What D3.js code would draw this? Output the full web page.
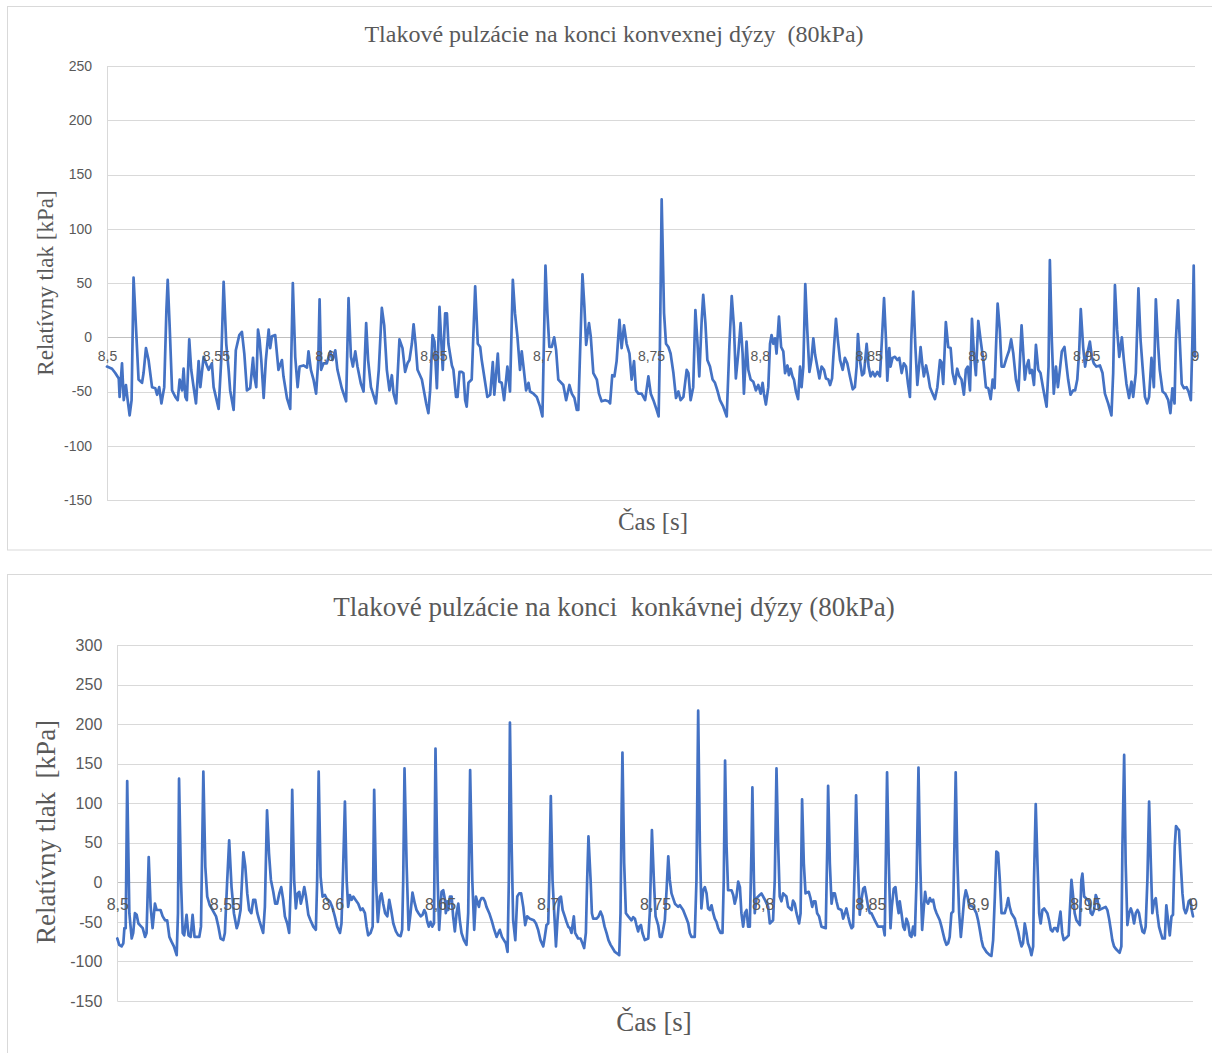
<!DOCTYPE html>
<html><head><meta charset="utf-8">
<script src="https://cdn.jsdelivr.net/npm/d3@7"></script>
<style>body{margin:0;background:#fff}svg text{white-space:pre}</style>
</head><body>
<svg id="c" width="1212" height="1053"></svg>
<script>
// ---------- DATA ----------
const timeTicks = [8.5, 8.55, 8.6, 8.65, 8.7, 8.75, 8.8, 8.85, 8.9, 8.95, 9];
const timeTickLabels = ["8,5","8,55","8,6","8,65","8,7","8,75","8,8","8,85","8,9","8,95","9"];
const convexTicks = [-150,-100,-50,0,50,100,150,200,250];
const concaveTicks = [-150,-100,-50,0,50,100,150,200,250,300];
const convexTitle = "Tlakové pulzácie na konci konvexnej dýzy  (80kPa)";
const concaveTitle = "Tlakové pulzácie na konci  konkávnej dýzy (80kPa)";
const convexYTitle = "Relatívny tlak [kPa]";
const concaveYTitle = "Relatívny tlak  [kPa]";
const xTitle = "Čas [s]";

// [time s, relative pressure kPa]
const convexSeries = [[8.5000,-27],[8.5023,-29],[8.5038,-33],[8.5054,-38],[8.5058,-55],[8.5069,-24],[8.5077,-58],[8.5087,-44],[8.5095,-58],[8.5104,-72],[8.5113,-58],[8.5122,55],[8.5133,10],[8.5145,-39],[8.5161,-42],[8.5168,-33],[8.5179,-10],[8.5191,-21],[8.5207,-46],[8.5222,-47],[8.5230,-53],[8.5240,-46],[8.5250,-61],[8.5263,-46],[8.5273,25],[8.5279,53],[8.5288,10],[8.5299,-49],[8.5314,-55],[8.5325,-58],[8.5334,-39],[8.5345,-49],[8.5352,-29],[8.5360,-55],[8.5367,-58],[8.5378,-2],[8.5387,-30],[8.5398,-46],[8.5409,-61],[8.5421,-22],[8.5429,-46],[8.5444,-18],[8.5459,-26],[8.5467,-30],[8.5482,-24],[8.5490,-46],[8.5513,-66],[8.5525,-21],[8.5536,51],[8.5548,-6],[8.5559,-30],[8.5566,-49],[8.5582,-67],[8.5592,-12],[8.5608,2],[8.5620,5],[8.5631,-15],[8.5643,-49],[8.5658,-47],[8.5671,-19],[8.5677,-36],[8.5686,-46],[8.5694,7],[8.5701,-2],[8.5709,-21],[8.5720,-56],[8.5730,-21],[8.5743,7],[8.5750,-10],[8.5758,1],[8.5773,2],[8.5788,-30],[8.5804,-21],[8.5811,-36],[8.5827,-56],[8.5842,-66],[8.5854,50],[8.5865,-18],[8.5876,-46],[8.5885,-27],[8.5903,-26],[8.5919,-28],[8.5926,-13],[8.5937,-30],[8.5949,-39],[8.5961,-52],[8.5971,-21],[8.5977,35],[8.5984,-30],[8.5995,-24],[8.6010,-24],[8.6026,-13],[8.6036,-21],[8.6049,-12],[8.6059,-30],[8.6079,-47],[8.6099,-59],[8.6110,36],[8.6121,-18],[8.6130,-27],[8.6141,-13],[8.6151,-27],[8.6167,-43],[8.6179,-50],[8.6191,13],[8.6200,-21],[8.6213,-46],[8.6236,-61],[8.6249,-30],[8.6263,27],[8.6274,11],[8.6286,-30],[8.6298,-49],[8.6309,-35],[8.6317,-52],[8.6329,-61],[8.6344,-2],[8.6358,-10],[8.6370,-32],[8.6381,-24],[8.6390,-21],[8.6401,-6],[8.6409,12],[8.6418,-6],[8.6427,-30],[8.6447,-39],[8.6467,-61],[8.6477,-70],[8.6485,-49],[8.6496,2],[8.6505,-4],[8.6516,-47],[8.6528,28],
[8.6543,-30],[8.6554,22],[8.6562,22],[8.6569,-6],[8.6585,-26],[8.6592,-30],[8.6604,-55],[8.6611,-55],[8.6620,-32],[8.6630,-32],[8.6638,-33],[8.6646,-58],[8.6653,-64],[8.6661,-42],[8.6676,-39],[8.6692,47],[8.6704,-6],[8.6715,-9],[8.6722,-21],[8.6738,-42],[8.6748,-55],[8.6761,-53],[8.6773,-23],[8.6780,-53],[8.6796,-15],[8.6803,-41],[8.6814,-42],[8.6825,-58],[8.6840,-27],[8.6852,-50],[8.6865,53],[8.6875,22],[8.6886,1],[8.6898,-30],[8.6906,-13],[8.6914,-27],[8.6926,-49],[8.6937,-42],[8.6944,-50],[8.6960,-52],[8.6975,-55],[8.6990,-64],[8.7001,-73],[8.7015,66],[8.7024,22],[8.7033,-9],[8.7044,-9],[8.7055,0],[8.7064,-12],[8.7074,-39],[8.7097,-44],[8.7110,-58],[8.7125,-44],[8.7136,-52],[8.7148,-56],[8.7159,-67],[8.7166,-67],[8.7185,58],[8.7194,28],[8.7202,-7],[8.7215,13],[8.7223,1],[8.7235,-33],[8.7251,-39],[8.7261,-52],[8.7273,-59],[8.7289,-58],[8.7304,-59],[8.7312,-61],[8.7322,-35],[8.7332,-36],[8.7342,-22],[8.7355,16],[8.7365,-10],[8.7376,11],[8.7388,-6],[8.7401,-15],[8.7411,-39],[8.7422,-22],[8.7431,-49],[8.7442,-52],[8.7457,-52],[8.7473,-58],[8.7488,-36],[8.7499,-52],[8.7511,-58],[8.7526,-67],[8.7535,-73],[8.7541,-9],[8.7549,127],[8.7560,22],[8.7569,-6],[8.7580,-9],[8.7590,-15],[8.7603,-33],[8.7615,-56],[8.7626,-50],[8.7636,-58],[8.7649,-55],[8.7664,-30],[8.7672,-33],[8.7682,-58],[8.7694,-46],[8.7704,25],[8.7713,-3],[8.7722,-36],[8.7733,16],[8.7740,39],[8.7750,13],[8.7759,-21],[8.7771,-27],[8.7783,-39],[8.7794,-42],[8.7805,-49],[8.7817,-58],[8.7832,-64],[8.7848,-73],[8.7860,-9],[8.7871,38],[8.7881,10],[8.7890,-38],[8.7901,-15],[8.7912,13],[8.7921,-15],[8.7927,-52],[8.7939,-4],[8.7947,-30],[8.7958,-39],[8.7970,-41],[8.7982,-49],[8.7993,-44],[8.8004,-52],[8.8013,-42],[8.8019,-52],[8.8028,-62],[8.8039,-46],[8.8047,-6],[8.8054,2],[8.8062,-6],[8.8070,-1],[8.8077,-15],[8.8088,19],
[8.8098,-9],[8.8108,-13],[8.8116,-33],[8.8127,-26],[8.8134,-35],[8.8142,-29],[8.8150,-36],[8.8157,-39],[8.8166,-50],[8.8176,-57],[8.8185,-27],[8.8192,-46],[8.8200,-27],[8.8209,49],[8.8218,7],[8.8228,-32],[8.8237,-21],[8.8246,-1],[8.8254,-16],[8.8264,-27],[8.8274,-38],[8.8284,-27],[8.8295,-30],[8.8304,-38],[8.8315,-39],[8.8323,-44],[8.8332,-38],[8.8338,-18],[8.8350,17],[8.8359,-3],[8.8369,-21],[8.8381,-30],[8.8391,-19],[8.8402,-24],[8.8414,-36],[8.8427,-48],[8.8437,-46],[8.8445,-27],[8.8451,3],[8.8460,-21],[8.8470,-35],[8.8479,-33],[8.8491,-6],[8.8500,-27],[8.8509,-36],[8.8519,-32],[8.8529,-36],[8.8540,-32],[8.8552,-36],[8.8561,-3],[8.8571,36],[8.8580,-3],[8.8586,-40],[8.8595,-10],[8.8601,-27],[8.8610,-19],[8.8621,-18],[8.8632,-21],[8.8641,-19],[8.8652,-33],[8.8662,-24],[8.8672,-27],[8.8681,-43],[8.8690,-55],[8.8696,-3],[8.8705,42],[8.8715,-9],[8.8724,-44],[8.8733,-24],[8.8739,-9],[8.8748,-27],[8.8754,-36],[8.8764,-26],[8.8774,-36],[8.8782,-46],[8.8794,-52],[8.8805,-57],[8.8816,-46],[8.8828,-21],[8.8835,-23],[8.8843,-43],[8.8855,14],[8.8866,-9],[8.8877,-10],[8.8886,-33],[8.8897,-43],[8.8907,-29],[8.8917,-36],[8.8927,-39],[8.8938,-53],[8.8947,-30],[8.8956,-27],[8.8966,-49],[8.8975,17],[8.8984,-15],[8.8993,-35],[8.9004,15],[8.9015,-3],[8.9027,-21],[8.9039,-46],[8.9050,-47],[8.9061,-57],[8.9070,-39],[8.9079,-47],[8.9085,-12],[8.9093,31],[8.9103,7],[8.9111,-27],[8.9122,-27],[8.9134,-19],[8.9146,-12],[8.9155,-2],[8.9165,-15],[8.9177,-39],[8.9189,-49],[8.9203,11],[8.9211,-15],[8.9218,-39],[8.9226,-27],[8.9235,-21],[8.9241,-33],[8.9250,-30],[8.9260,-44],[8.9269,-7],[8.9280,-30],[8.9290,-33],[8.9302,-47],[8.9318,-64],[8.9327,-27],[8.9333,71],[8.9342,-3],[8.9351,-52],[8.9361,-27],[8.9370,-46],[8.9379,-30],[8.9388,-13],[8.9400,-9],[8.9410,-27],[8.9417,-39],[8.9428,-53],[8.9440,-49],[8.9449,-49],[8.9459,-39],[8.9468,-12],[8.9475,26],[8.9486,-9],[8.9495,-27],[8.9505,-15],[8.9517,-4],[8.9526,-18],[8.9535,-24],[8.9547,-27],[8.9563,-26],[8.9575,-33],[8.9586,-52],[8.9601,-61],[8.9616,-72],[8.9624,-33],[8.9632,48],[8.9642,7],[8.9652,-18],[8.9664,0],[8.9673,-21],[8.9685,-43],[8.9697,-56],[8.9708,-41],[8.9716,-55],[8.9728,-33],[8.9740,45],[8.9750,-3],[8.9759,-27],[8.9770,-55],[8.9780,-61],[8.9789,-55],[8.9800,-19],[8.9811,-46],[8.9820,35],[8.9831,-9],[8.9838,-30],[8.9851,-50],[8.9863,-52],[8.9877,-58],[8.9887,-70],[8.9896,-47],[8.9906,-61],[8.9912,-3],[8.9922,34],[8.9930,-3],[8.9939,-43],[8.9949,-47],[8.9961,-46],[8.9970,-50],[8.9981,-58],[8.9988,-3],[8.9994,66],[9.0000,-18]];

const concaveSeries = [[8.5000,-71],[8.5009,-79],[8.5020,-81],[8.5028,-77],[8.5033,-58],[8.5039,-58],[8.5046,128],[8.5056,-39],[8.5067,-71],[8.5074,-64],[8.5082,-39],[8.5090,-41],[8.5098,-52],[8.5105,-54],[8.5118,-58],[8.5129,-69],[8.5136,-64],[8.5146,32],[8.5155,-31],[8.5164,-58],[8.5175,-27],[8.5183,-35],[8.5201,-35],[8.5211,-43],[8.5222,-48],[8.5232,-48],[8.5242,-69],[8.5252,-75],[8.5263,-81],[8.5276,-92],[8.5282,-39],[8.5287,131],[8.5296,3],[8.5304,-64],[8.5311,-67],[8.5322,-41],[8.5331,-67],[8.5341,-69],[8.5350,-41],[8.5359,-69],[8.5381,-69],[8.5389,-56],[8.5400,140],[8.5409,20],[8.5418,-18],[8.5430,-29],[8.5443,-35],[8.5459,-43],[8.5470,-56],[8.5480,-71],[8.5493,-73],[8.5500,-64],[8.5511,3],[8.5520,53],[8.5531,-6],[8.5542,-39],[8.5555,-58],[8.5562,-52],[8.5573,-35],[8.5586,38],[8.5595,20],[8.5604,-14],[8.5613,-35],[8.5623,-39],[8.5632,-22],[8.5641,-22],[8.5651,-39],[8.5660,-48],[8.5671,-58],[8.5678,-64],[8.5686,-31],[8.5696,91],[8.5705,37],[8.5714,3],[8.5725,-12],[8.5734,-27],[8.5743,-27],[8.5753,-14],[8.5762,-6],[8.5771,-22],[8.5779,-43],[8.5790,-52],[8.5799,-64],[8.5807,3],[8.5813,117],[8.5822,3],[8.5830,-33],[8.5838,-14],[8.5846,-12],[8.5853,-27],[8.5861,-18],[8.5869,-6],[8.5877,-18],[8.5888,-41],[8.5898,-48],[8.5911,-56],[8.5923,-60],[8.5929,3],[8.5936,140],[8.5945,7],[8.5954,-18],[8.5965,-16],[8.5976,-22],[8.5988,-24],[8.5999,-31],[8.6011,-43],[8.6022,-56],[8.6035,-64],[8.6042,-52],[8.6050,20],[8.6058,102],[8.6066,3],[8.6073,-31],[8.6081,-16],[8.6089,-22],[8.6097,-18],[8.6107,-22],[8.6120,-27],[8.6131,-35],[8.6140,-33],[8.6151,-39],[8.6159,-56],[8.6166,-67],[8.6177,-64],[8.6187,-56],[8.6194,117],[8.6202,3],[8.6211,-50],[8.6221,-18],[8.6228,-14],[8.6236,-27],[8.6245,-39],[8.6255,-43],[8.6264,-22],[8.6273,-35],[8.6283,-52],[8.6295,-62],[8.6306,-67],[8.6317,-68],[8.6324,-60],[8.6329,3],[8.6335,144],[8.6345,20],[8.6354,-60],[8.6363,-39],[8.6372,-13],[8.6383,-27],[8.6391,-35],[8.6400,-39],[8.6410,-43],[8.6419,-41],[8.6427,-35],[8.6434,-39],[8.6441,-50],[8.6448,-56],[8.6456,-50],[8.6464,-56],[8.6472,-52],[8.6479,169],[8.6489,3],[8.6496,-60],
[8.6507,-12],[8.6515,-10],[8.6523,-22],[8.6527,-39],[8.6534,-24],[8.6538,-35],[8.6546,-18],[8.6554,-18],[8.6561,-43],[8.6569,-62],[8.6577,-39],[8.6585,-27],[8.6592,-48],[8.6600,-64],[8.6611,-73],[8.6623,-79],[8.6631,-39],[8.6640,142],[8.6650,3],[8.6659,-60],[8.6667,-18],[8.6673,-24],[8.6681,-31],[8.6685,-24],[8.6693,-20],[8.6701,-20],[8.6709,-24],[8.6716,-31],[8.6729,-39],[8.6740,-48],[8.6750,-58],[8.6763,-69],[8.6771,-64],[8.6778,-60],[8.6788,-69],[8.6797,-73],[8.6806,-77],[8.6814,-88],[8.6820,3],[8.6825,202],[8.6833,45],[8.6840,-48],[8.6850,-73],[8.6859,-18],[8.6868,-14],[8.6877,-14],[8.6887,-31],[8.6896,-54],[8.6905,-43],[8.6918,-46],[8.6936,-48],[8.6946,-52],[8.6956,-60],[8.6967,-73],[8.6980,-81],[8.6987,-69],[8.6995,-54],[8.7003,-52],[8.7008,3],[8.7015,109],[8.7023,3],[8.7031,-39],[8.7039,-81],[8.7046,-48],[8.7054,-20],[8.7062,-18],[8.7070,-35],[8.7080,-43],[8.7088,-50],[8.7096,-56],[8.7104,-58],[8.7111,-64],[8.7122,-43],[8.7128,-64],[8.7142,-71],[8.7153,-71],[8.7162,-77],[8.7170,-83],[8.7178,-64],[8.7184,3],[8.7190,58],[8.7200,3],[8.7206,-39],[8.7212,-46],[8.7228,-46],[8.7237,-43],[8.7246,-37],[8.7255,-43],[8.7265,-56],[8.7274,-64],[8.7283,-73],[8.7293,-79],[8.7302,-83],[8.7313,-88],[8.7324,-90],[8.7333,-92],[8.7339,-39],[8.7344,87],[8.7348,164],[8.7356,24],[8.7364,-39],[8.7375,-43],[8.7390,-48],[8.7398,-44],[8.7406,-46],[8.7413,-54],[8.7421,-62],[8.7426,-56],[8.7434,-54],[8.7441,-64],[8.7452,-73],[8.7468,-71],[8.7475,-39],[8.7485,66],[8.7494,3],[8.7502,-43],[8.7514,-54],[8.7522,-69],[8.7530,-69],[8.7537,-60],[8.7545,-48],[8.7553,-10],[8.7561,33],[8.7568,3],[8.7576,-14],[8.7592,-27],[8.7607,-31],[8.7615,-29],[8.7630,-35],[8.7646,-46],[8.7654,-52],[8.7661,-64],[8.7669,-69],[8.7684,-69],[8.7692,3],[8.7700,217],[8.7708,45],[8.7715,-33],[8.7723,-10],[8.7731,-6],[8.7739,-14],[8.7746,-33],[8.7754,-35],[8.7762,-29],[8.7770,-39],[8.7777,-46],[8.7785,-50],[8.7793,-58],[8.7804,-64],[8.7813,-64],[8.7819,3],[8.7825,154],[8.7832,45],[8.7839,-10],[8.7855,-10],[8.7863,-16],[8.7870,-27],[8.7878,-18],[8.7886,1],[8.7894,-6],[8.7901,-39],[8.7909,-56],[8.7917,-39],[8.7925,-35],[8.7932,-56],[8.7940,-56],[8.7948,45],[8.7952,120],[8.7959,3],[8.7963,-39],[8.7971,-20],[8.7986,-16],[8.7994,-14],[8.8010,-22],[8.8025,-31],[8.8033,-52],[8.8048,-48],[8.8056,3],[8.8064,144],
[8.8072,45],[8.8079,-18],[8.8087,-24],[8.8095,-14],[8.8110,-18],[8.8118,-31],[8.8134,-35],[8.8141,-23],[8.8149,-27],[8.8157,-39],[8.8169,-52],[8.8176,-39],[8.8183,105],[8.8191,24],[8.8199,-14],[8.8214,-12],[8.8222,-20],[8.8230,-31],[8.8237,-24],[8.8245,-24],[8.8253,-39],[8.8262,-43],[8.8273,-56],[8.8293,-58],[8.8300,45],[8.8304,122],[8.8312,24],[8.8320,-27],[8.8327,-14],[8.8335,-14],[8.8343,-24],[8.8351,-33],[8.8366,-35],[8.8374,-46],[8.8382,-39],[8.8389,-33],[8.8397,-43],[8.8405,-52],[8.8413,-58],[8.8420,-56],[8.8428,24],[8.8434,110],[8.8442,24],[8.8451,-41],[8.8459,-22],[8.8467,-8],[8.8474,-6],[8.8482,-18],[8.8490,-31],[8.8498,-39],[8.8505,-39],[8.8521,-48],[8.8536,-56],[8.8560,-56],[8.8567,-67],[8.8572,24],[8.8578,139],[8.8586,24],[8.8594,-58],[8.8600,-31],[8.8609,-8],[8.8617,-6],[8.8625,-27],[8.8632,-39],[8.8637,-24],[8.8645,-39],[8.8653,-56],[8.8660,-60],[8.8668,-46],[8.8676,-52],[8.8684,-67],[8.8691,-69],[8.8699,-56],[8.8707,-67],[8.8715,3],[8.8724,145],[8.8732,24],[8.8741,-60],[8.8749,-31],[8.8755,-12],[8.8761,-24],[8.8769,-27],[8.8777,-20],[8.8784,-24],[8.8792,-22],[8.8800,-33],[8.8808,-39],[8.8823,-48],[8.8831,-56],[8.8838,-64],[8.8846,-73],[8.8854,-79],[8.8862,-77],[8.8869,-69],[8.8877,-39],[8.8885,-37],[8.8891,45],[8.8897,139],[8.8905,24],[8.8913,-39],[8.8921,-69],[8.8928,-48],[8.8936,-22],[8.8944,-10],[8.8952,-18],[8.8959,-29],[8.8978,-31],[8.8993,-39],[8.9001,-48],[8.9009,-60],[8.9017,-73],[8.9024,-81],[8.9040,-88],[8.9055,-92],[8.9063,-93],[8.9071,-73],[8.9079,-18],[8.9086,39],[8.9094,37],[8.9102,3],[8.9110,-39],[8.9125,-39],[8.9133,-31],[8.9141,-20],[8.9148,-31],[8.9156,-39],[8.9172,-46],[8.9179,-54],[8.9187,-62],[8.9195,-73],[8.9203,-81],[8.9210,-77],[8.9218,-52],[8.9226,-64],[8.9233,-77],[8.9241,-83],[8.9249,-92],[8.9257,-81],[8.9261,3],[8.9269,99],[8.9277,24],[8.9285,-39],[8.9292,-52],[8.9300,-35],[8.9308,-33],[8.9323,-39],[8.9331,-48],[8.9339,-60],[8.9347,-62],[8.9354,-58],[8.9362,-58],[8.9370,-62],[8.9378,-48],[8.9384,-37],[8.9392,-64],[8.9399,-73],[8.9415,-69],[8.9422,-67],[8.9427,-39],[8.9435,3],[8.9443,-18],[8.9450,-39],[8.9458,-48],[8.9474,-54],[8.9481,3],[8.9486,11],[8.9494,-18],[8.9517,-24],[8.9525,-39],[8.9532,-41],[8.9540,-35],[8.9548,-16],[8.9556,-22],[8.9563,-35],[8.9594,-31],[8.9602,-35],[8.9610,-46],[8.9618,-60],[8.9625,-73],[8.9633,-81],[8.9644,-85],[8.9659,-89],[8.9667,-81],[8.9672,45],[8.9680,161],[8.9687,24],[8.9695,-54],[8.9703,-39],[8.9711,-33],[8.9718,-39],[8.9726,-52],[8.9734,-39],[8.9742,-35],[8.9749,-39],[8.9757,-52],[8.9765,-62],[8.9773,-64],[8.9780,-56],[8.9788,3],[8.9796,102],[8.9804,24],[8.9811,-39],[8.9819,-24],[8.9827,-20],[8.9834,-39],[8.9842,-56],[8.9850,-64],[8.9858,-71],[8.9869,-71],[8.9876,-29],[8.9884,-48],[8.9892,-67],[8.9900,-43],[8.9907,-41],[8.9915,45],[8.9921,71],[8.9929,68],[8.9935,66],[8.9943,24],[8.9951,-14],[8.9958,-33],[8.9966,-39],[8.9972,-35],[8.9980,-24],[8.9988,-22],[8.9994,-35],[9.0000,-43]];

// ---------- DRAW ----------
const svg = d3.select("#c");
const TXT = "#595959", GRID = "#d9d9d9", LINE = "#4472C4";

function drawChart(o) {
  const g = svg.append("g");
  g.append("rect").attr("x", o.box[0]).attr("y", o.box[1]).attr("width", o.box[2]).attr("height", o.box[3])
    .attr("fill", "#fff").attr("stroke", GRID).attr("stroke-width", 1);

  const x = d3.scaleLinear().domain([8.5, 9]).range([o.l, o.r]);
  const y = d3.scaleLinear().domain([o.ticks[0], o.ticks[o.ticks.length - 1]]).range([o.b, o.t]);

  // gridlines
  g.append("g").selectAll("line").data(o.ticks).join("line")
    .attr("x1", o.l).attr("x2", o.r)
    .attr("y1", d => Math.round(y(d)) + 0.5).attr("y2", d => Math.round(y(d)) + 0.5)
    .attr("stroke", d => d === 0 ? "#bfbfbf" : GRID).attr("stroke-width", 1);
  // vertical axis line
  g.append("line").attr("x1", Math.round(o.l) + 0.5).attr("x2", Math.round(o.l) + 0.5)
    .attr("y1", o.t).attr("y2", o.b).attr("stroke", GRID);

  // y tick labels via d3 axis (plain hyphen-minus as in the original)
  const yAxis = d3.axisLeft(y).tickValues(o.ticks).tickSize(0).tickPadding(0).tickFormat(d => String(d));
  const ya = g.append("g").attr("transform", `translate(${o.l - 15},0)`).call(yAxis);
  ya.select(".domain").remove();
  ya.selectAll("text").attr("fill", TXT).attr("font-family", "Liberation Sans, Arial, sans-serif")
    .attr("font-size", o.tickFs);

  // series line
  const line = d3.line().x(d => x(d[0])).y(d => y(d[1])).curve(d3.curveLinear);
  g.append("path").datum(o.data).attr("d", line).attr("fill", "none")
    .attr("stroke", LINE).attr("stroke-width", 2.7).attr("stroke-linejoin", "round").attr("stroke-linecap", "round");

  // x tick labels at the zero line
  const xAxis = d3.axisBottom(x).tickValues(timeTicks).tickSize(0).tickPadding(0)
    .tickFormat((d, i) => timeTickLabels[i]);
  const xa = g.append("g").attr("transform", `translate(0,${y(0) + o.xLabOff})`).call(xAxis);
  xa.select(".domain").remove();
  xa.selectAll("text").attr("fill", TXT).attr("font-family", "Liberation Sans, Arial, sans-serif")
    .attr("font-size", o.tickFs).attr("dy", 0);

  const serif = "Liberation Serif, Times New Roman, serif";
  g.append("text").attr("x", o.titleX).attr("y", o.titleY).attr("text-anchor", "middle")
    .attr("font-family", serif).attr("font-size", o.titleFs).attr("fill", TXT).text(o.title);
  g.append("text").attr("transform", `translate(${o.yTitleX},${o.yTitleY}) rotate(-90)`)
    .attr("text-anchor", "middle").attr("font-family", serif).attr("font-size", o.yTitleFs)
    .attr("fill", TXT).text(o.yTitle);
  g.append("text").attr("x", o.xTitleX).attr("y", o.xTitleY).attr("text-anchor", "middle")
    .attr("font-family", serif).attr("font-size", o.xTitleFs).attr("fill", TXT).text(xTitle);
}

drawChart({
  box: [7.5, 6.5, 1220, 543.5], l: 107, r: 1195, t: 66, b: 500,
  ticks: convexTicks, data: convexSeries, tickFs: 14, xLabOff: 24,
  title: convexTitle, titleX: 614, titleY: 42, titleFs: 24,
  yTitle: convexYTitle, yTitleX: 53, yTitleY: 283, yTitleFs: 23,
  xTitleX: 653, xTitleY: 530, xTitleFs: 25
});
drawChart({
  box: [7.5, 574.5, 1220, 500], l: 117.3, r: 1193, t: 645, b: 1001,
  ticks: concaveTicks, data: concaveSeries, tickFs: 16, xLabOff: 28,
  title: concaveTitle, titleX: 614, titleY: 616, titleFs: 27,
  yTitle: concaveYTitle, yTitleX: 55, yTitleY: 832, yTitleFs: 27,
  xTitleX: 654, xTitleY: 1031, xTitleFs: 27
});
</script>
</body></html>
